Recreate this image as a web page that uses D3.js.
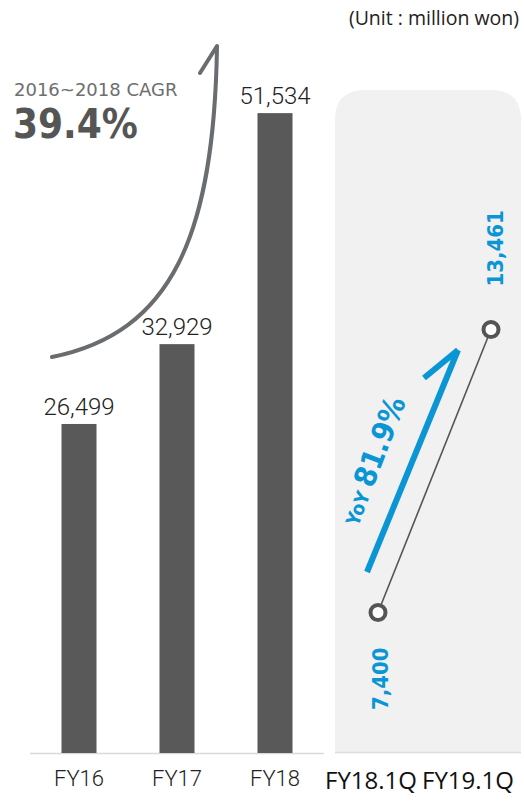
<!DOCTYPE html>
<html><head><meta charset="utf-8">
<script src="https://cdn.jsdelivr.net/npm/d3@7"></script>
<style>html,body{margin:0;padding:0;background:#fff;}svg{display:block;}</style>
</head><body>
<script>
const annualCats = ["FY16", "FY17", "FY18"];
const annualValues = [26499, 32929, 51534];
const quarterCats = ["FY18.1Q", "FY19.1Q"];
const quarterValues = [7400, 13461];
const cagrTitle = "2016~2018 CAGR";
const cagrValue = "39.4%";
const yoyLabel = "YoY";
const yoyValue = "81.9%";
const unitLabel = "(Unit : million won)";

const W = 524, H = 801;
const svg = d3.select("body").append("svg").attr("width", W).attr("height", H);
const fmt = d3.format(",");

// Left bar chart
const baseY = 753;
const x = d3.scalePoint().domain(annualCats).range([30, 324]).padding(0.5);
const y = d3.scaleLinear().domain([0, 60000]).range([baseY, baseY - 745]);
const barW = 35;

svg.append("line").attr("x1", 30).attr("x2", 324).attr("y1", baseY + 0.5).attr("y2", baseY + 0.5)
  .attr("stroke", "#d9d9d9").attr("stroke-width", 1.5);

svg.selectAll("rect.bar").data(annualValues).join("rect").attr("class", "bar")
  .attr("x", (d, i) => x(annualCats[i]) - barW / 2)
  .attr("y", d => y(d))
  .attr("width", barW)
  .attr("height", d => baseY - y(d))
  .attr("fill", "#595959");

svg.selectAll("text.val").data(annualValues).join("text").attr("class", "val")
  .attr("x", (d, i) => x(annualCats[i]))
  .attr("y", d => y(d) - 9)
  .attr("text-anchor", "middle")
  .attr("font-family", "Roboto, Liberation Sans, Arial, sans-serif")
  .attr("font-weight", 300)
  .attr("font-size", 24)
  .attr("fill", "#222")
  .text(d => fmt(d));

svg.selectAll("text.cat").data(annualCats).join("text").attr("class", "cat")
  .attr("x", d => x(d))
  .attr("y", 786)
  .attr("text-anchor", "middle")
  .attr("font-family", "Roboto, Liberation Sans, Arial, sans-serif")
  .attr("font-weight", 300)
  .attr("font-size", 22)
  .attr("fill", "#222")
  .text(d => d);

// CAGR curve
svg.append("path")
  .attr("d", "M52,357 C172,333 214,235 217,47")
  .attr("fill", "none").attr("stroke", "#6a6d70").attr("stroke-width", 4).attr("stroke-linecap", "round");
svg.append("path")
  .attr("d", "M200,73 L217,46")
  .attr("fill", "none").attr("stroke", "#6a6d70").attr("stroke-width", 4).attr("stroke-linecap", "round");

svg.append("text").attr("x", 14).attr("y", 96)
  .attr("font-family", "DejaVu Sans, sans-serif").attr("font-size", 18)
  .attr("fill", "#6e6e6e").text(cagrTitle);
svg.append("text").attr("x", 13).attr("y", 138)
  .attr("font-family", "DejaVu Sans Condensed, DejaVu Sans, sans-serif").attr("font-weight", "bold").attr("font-size", 40)
  .attr("fill", "#555").text(cagrValue);

// Unit label
svg.append("text").attr("x", 519).attr("y", 25).attr("text-anchor", "end")
  .attr("font-family", "Open Sans, Noto Sans, sans-serif").attr("font-size", 19.5)
  .attr("fill", "#222").text(unitLabel);

// Right panel
const pL = 335, pR = 521, pT = 90, pB = 752, rr = 30;
svg.append("path")
  .attr("d", `M${pL},${pB} L${pL},${pT + rr} Q${pL},${pT} ${pL + rr},${pT} L${pR - rr},${pT} Q${pR},${pT} ${pR},${pT + rr} L${pR},${pB} Z`)
  .attr("fill", "#f1f1f1");
svg.append("line").attr("x1", pL).attr("x2", pR).attr("y1", pB + 0.5).attr("y2", pB + 0.5)
  .attr("stroke", "#dcdcdc").attr("stroke-width", 1.5);

const xq = d3.scalePoint().domain(quarterCats).range([378, 491]);
const yq = d3.scaleLinear().domain([0, 16000]).range([958, 958 - 16000 * 0.04669]);

const line = d3.line().x((d, i) => xq(quarterCats[i])).y(d => yq(d));
svg.append("path").datum(quarterValues).attr("d", line)
  .attr("fill", "none").attr("stroke", "#555").attr("stroke-width", 1.6);

svg.selectAll("circle.pt").data(quarterValues).join("circle").attr("class", "pt")
  .attr("cx", (d, i) => xq(quarterCats[i]))
  .attr("cy", d => yq(d))
  .attr("r", 7.5)
  .attr("fill", "#fff").attr("stroke", "#555").attr("stroke-width", 4);

// quarter value labels (rotated)
const qLabelPos = [{dx: 2, dy: 35, anchor: "end"}, {dx: 4, dy: -43, anchor: "start"}];
svg.selectAll("text.qv").data(quarterValues).join("text").attr("class", "qv")
  .attr("transform", (d, i) => {
    const px = xq(quarterCats[i]) + qLabelPos[i].dx + 8;
    const py = yq(d) + qLabelPos[i].dy;
    return `translate(${px},${py}) rotate(-90)`;
  })
  .attr("text-anchor", (d, i) => qLabelPos[i].anchor)
  .attr("font-family", "DejaVu Sans Condensed, DejaVu Sans, sans-serif")
  .attr("font-weight", "bold")
  .attr("font-size", 22)
  .attr("fill", "#0a96d4")
  .text(d => fmt(d));

svg.selectAll("text.qc").data(quarterCats).join("text").attr("class", "qc")
  .attr("x", (d, i) => [371, 468][i])
  .attr("y", 789)
  .attr("text-anchor", "middle")
  .attr("font-family", "Open Sans, Noto Sans, sans-serif")
  .attr("font-size", 24)
  .attr("fill", "#111")
  .text(d => d);

// YoY arrow
svg.append("path").attr("d", "M367,572 L458,350")
  .attr("fill", "none").attr("stroke", "#0a96d4").attr("stroke-width", 6);
svg.append("path").attr("d", "M424,378 L458,350")
  .attr("fill", "none").attr("stroke", "#0a96d4").attr("stroke-width", 6).attr("stroke-linecap", "butt");

const ang = -69;
const yoy = svg.append("text")
  .attr("transform", `translate(358,527) rotate(${ang})`)
  .attr("font-family", "DejaVu Sans Condensed, DejaVu Sans, sans-serif")
  .attr("font-weight", "bold")
  .attr("fill", "#0a96d4");
yoy.append("tspan").attr("font-size", 19).text(yoyLabel + " ");
yoy.append("tspan").attr("font-size", 30).text(yoyValue);
</script>
</body></html>
